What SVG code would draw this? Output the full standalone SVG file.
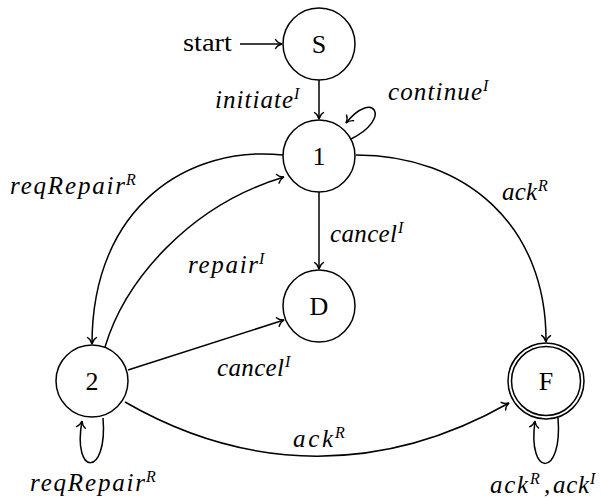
<svg xmlns="http://www.w3.org/2000/svg" width="602" height="499" viewBox="0 0 602 499">
<style>
.n{fill:#fff;stroke:#000;stroke-width:1.5}
.nl{font-family:"Liberation Serif",serif;font-size:26px;text-anchor:middle;fill:#000}
.t{font-family:"Liberation Serif",serif;font-size:26px;fill:#000}
.m{font-family:"Liberation Serif",serif;font-style:italic;font-size:25px;fill:#000}
.s{font-family:"Liberation Serif",serif;font-style:italic;font-size:16px;fill:#000}
.e{fill:none;stroke:#000;stroke-width:1.5;marker-end:url(#ah)}
</style>
<defs>
<marker id="ah" viewBox="-8 -6 10 12" refX="0" refY="0" markerWidth="10" markerHeight="12" markerUnits="userSpaceOnUse" orient="auto">
<path d="M-6.5,-4.5 C-5,-2 -2,-0.5 0,0 C-2,0.5 -5,2 -6.5,4.5" fill="none" stroke="#000" stroke-width="1.4" stroke-linecap="round"/>
</marker>
</defs>
<g id="connectors">
<path class="e" d="M240,44 L282,44"/>
<path class="e" d="M319,80 L319,119"/>
<path class="e" d="M351,139 C393,118 373,89 346,123"/>
<path class="e" d="M319,192 L319,269"/>
<path class="e" d="M356,155 C465,155 547,225 546,342"/>
<path class="e" d="M283,155 C190,145 92,205 92,344"/>
<path class="e" d="M105,347 C125,280 190,205 284,177"/>
<path class="e" d="M128,370 L284,320"/>
<path class="e" d="M125,402 C250,474 384,474 509,403"/>
<path class="e" d="M103,418 C108,477 72,477 82,421"/>
<path class="e" d="M558,418 C563,478 527,478 535,421"/>
</g>
<g id="labels">
<text class="t" x="183" y="51" textLength="49" lengthAdjust="spacingAndGlyphs">start</text>
<text class="m" x="215" y="108" textLength="78" lengthAdjust="spacing">initiate</text><text class="s" x="294" y="99">I</text>
<text class="m" x="388" y="100" textLength="94" lengthAdjust="spacing">continue</text><text class="s" x="483" y="91">I</text>
<text class="m" x="10" y="194" textLength="115" lengthAdjust="spacing">reqRepair</text><text class="s" x="126" y="185">R</text>
<text class="m" x="188" y="273" textLength="70" lengthAdjust="spacing">repair</text><text class="s" x="259" y="264">I</text>
<text class="m" x="330" y="242" textLength="67" lengthAdjust="spacing">cancel</text><text class="s" x="398" y="233">I</text>
<text class="m" x="502" y="200" textLength="35" lengthAdjust="spacing">ack</text><text class="s" x="538" y="191">R</text>
<text class="m" x="217" y="376" textLength="67" lengthAdjust="spacing">cancel</text><text class="s" x="285" y="367">I</text>
<text class="m" x="293" y="447" textLength="40" lengthAdjust="spacing">ack</text><text class="s" x="335" y="438">R</text>
<text class="m" x="30" y="491" textLength="115" lengthAdjust="spacing">reqRepair</text><text class="s" x="146" y="482">R</text>
<text class="m" x="490" y="493" textLength="38" lengthAdjust="spacing">ack</text><text class="s" x="530" y="484">R</text><text class="m" x="544" y="493">,</text>
<text class="m" x="553" y="493" textLength="36" lengthAdjust="spacing">ack</text><text class="s" x="590" y="484">I</text>
</g>
<g id="S"><circle class="n" cx="319" cy="44" r="36"/><text class="nl" x="319" y="53">S</text></g>
<g id="n1"><circle class="n" cx="319" cy="156" r="36"/><text class="nl" x="319" y="165">1</text></g>
<g id="D"><circle class="n" cx="319" cy="306" r="36"/><text class="nl" x="319" y="315">D</text></g>
<g id="n2"><circle class="n" cx="92" cy="381" r="36"/><text class="nl" x="92" y="390">2</text></g>
<g id="F"><circle class="n" cx="546" cy="381" r="38"/><circle class="n" cx="546" cy="381" r="34.5"/><text class="nl" x="546" y="390">F</text></g>
</svg>
